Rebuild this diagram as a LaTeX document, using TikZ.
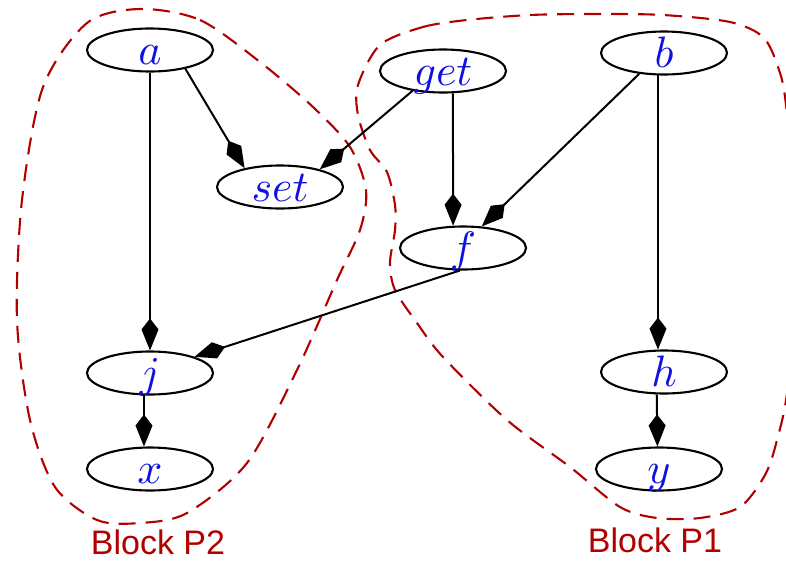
\documentclass[tikz,border=0pt]{standalone}
\usepackage{graphicx}
\usepackage{fontspec}
\newfontfamily\lblfont{Liberation Sans}
\usetikzlibrary{arrows.meta,shapes.geometric}
\definecolor{blockred}{RGB}{178,0,0}
\definecolor{nodeblue}{RGB}{16,16,224}
% variable name, lowered so that all baselines sit at the same depth
\newcommand{\varname}[1]{\raisebox{-14pt}[0pt][0pt]{\scalebox{4.4}{$#1$}}}
\begin{document}
\begin{tikzpicture}[x=1pt,y=-1pt,
  var/.style={draw, ellipse, line width=2.1pt, minimum width=126pt,
              minimum height=43pt, inner sep=0pt, text=nodeblue},
  edge/.style={line width=2pt, -{Kite[length=32pt,width=17pt,inset=11pt]}},
  block/.style={draw=blockred, line width=2.1pt, dash pattern=on 17pt off 10pt},
  blocklabel/.style={text=blockred, font=\lblfont\fontsize{34}{40}\selectfont,
                     anchor=base, inner sep=0pt}]
\useasboundingbox (0,0) rectangle (786,560);

% dependence blocks
\draw[block] plot[smooth cycle] coordinates {
  (140,9) (200,20) (260,62) (313,107) (350,147) (366,190) (360,230)
  (337,280) (297,370) (247,463) (187,513) (140,523) (97,520) (55,487)
  (30,420) (17,320) (22,200) (43,87) (87,23)};
\draw[block] plot[smooth cycle] coordinates {
  (380,45) (423,27) (467,20) (530,15) (597,14) (663,15) (730,22) (763,37)
  (778,67) (786,105) (798,240) (788,385) (777,440) (765,475) (740,507)
  (700,518) (657,518) (620,507) (570,467) (507,420) (443,357) (417,323)
  (395,290) (390,263) (395,230) (395,205) (387,172) (370,150) (358,115)
  (358,85)};

% variables
\node[var] (a)   at (150,50)  {\varname{a}};
\node[var] (set) at (280,187) {\varname{set}};
\node[var] (get) at (443,71)  {\varname{get}};
\node[var] (b)   at (664,53)  {\varname{b}};
\node[var] (f)   at (463,248) {\varname{f}};
\node[var] (j)   at (150,373) {\varname{j}};
\node[var] (x)   at (150,469) {\varname{x}};
\node[var] (h)   at (664,372) {\varname{h}};
\node[var] (y)   at (659,469) {\varname{y}};

% dependences
\draw[edge] (a.-28)   -- (set.152);
\draw[edge] (a.south) -- (j.north);
\draw[edge] (get.-147) -- (set.24);
\draw[edge] (get.-66) -- (f.114);
\draw[edge] (b.-140)  -- (f.49);
\draw[edge] (b.-105)  -- (h.105);
\draw[edge] (f.-98)   -- (j.20);
\draw[edge] (j.-105)  -- (x.105);
\draw[edge] (h.-108)  -- (y.94);

% block names
\node[blocklabel] (p2) at (158,554) {Block P2};
\node[blocklabel] (p1) at (655,552) {Block P1};
\end{tikzpicture}
\end{document}
